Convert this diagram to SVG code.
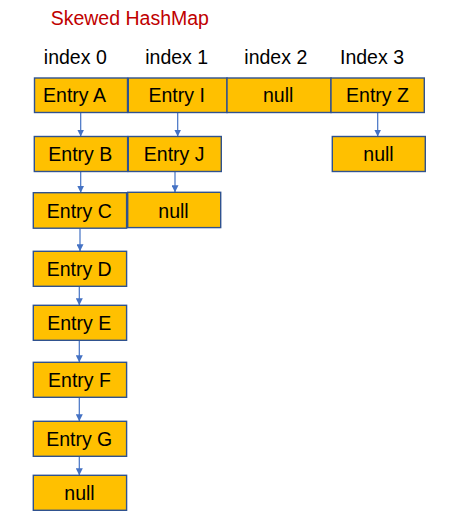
<svg xmlns="http://www.w3.org/2000/svg" width="463" height="521" viewBox="0 0 463 521">
<style>
.box{fill:#FFC000;stroke:#2F528F;stroke-width:1.4}
.t{font-family:"Liberation Sans",Arial,sans-serif;font-size:19.5px;fill:#000;text-anchor:middle}
.title{font-family:"Liberation Sans",Arial,sans-serif;font-size:19.5px;fill:#C00000}
.c{stroke:#4472C4;stroke-width:1.2;fill:none}
</style>
<defs>
<marker id="ah" markerUnits="userSpaceOnUse" markerWidth="8" markerHeight="7" refX="7" refY="3.5" orient="auto">
<path d="M0,0 L7,3.5 L0,7 Z" fill="#4472C4"/>
</marker>
</defs>
<rect width="463" height="521" fill="#fff"/>
<text class="title" x="50.7" y="25">Skewed HashMap</text>
<g id="labels">
<text class="t" x="75.3" y="64">index 0</text>
<text class="t" x="176.7" y="64">index 1</text>
<text class="t" x="275.8" y="64">index 2</text>
<text class="t" x="372" y="64">Index 3</text>
</g>
<g id="connectors">
<line class="c" x1="80.7" y1="112.5" x2="80.7" y2="136.5" marker-end="url(#ah)"/>
<line class="c" x1="177.7" y1="112.5" x2="177.7" y2="136.5" marker-end="url(#ah)"/>
<line class="c" x1="377.7" y1="112.5" x2="377.7" y2="136.5" marker-end="url(#ah)"/>
<line class="c" x1="80.7" y1="171.5" x2="80.7" y2="192.7" marker-end="url(#ah)"/>
<line class="c" x1="175" y1="171.5" x2="175" y2="192.3" marker-end="url(#ah)"/>
<line class="c" x1="80" y1="228.2" x2="80" y2="251.3" marker-end="url(#ah)"/>
<line class="c" x1="79.3" y1="286.3" x2="79.3" y2="305.3" marker-end="url(#ah)"/>
<line class="c" x1="79.3" y1="340.3" x2="79.3" y2="362.3" marker-end="url(#ah)"/>
<line class="c" x1="79.3" y1="397.3" x2="79.3" y2="421.3" marker-end="url(#ah)"/>
<line class="c" x1="79.3" y1="456.3" x2="79.3" y2="475.3" marker-end="url(#ah)"/>
</g>
<g id="entryA"><rect class="box" x="34.5" y="78" width="93" height="34.5"/><text class="t" x="74.5" y="102">Entry A</text></g>
<g id="entryI"><rect class="box" x="128.3" y="78" width="98.7" height="34.5"/><text class="t" x="176.7" y="102">Entry I</text></g>
<g id="null2"><rect class="box" x="227" y="78" width="104" height="34.5"/><text class="t" x="278.2" y="102">null</text></g>
<g id="entryZ"><rect class="box" x="331" y="78" width="93.3" height="34.5"/><text class="t" x="377.5" y="102">Entry Z</text></g>
<g id="entryB"><rect class="box" x="34.3" y="136.5" width="93.3" height="35"/><text class="t" x="80.3" y="161">Entry B</text></g>
<g id="entryJ"><rect class="box" x="128.3" y="136.5" width="93" height="35"/><text class="t" x="174.2" y="161">Entry J</text></g>
<g id="nullZ"><rect class="box" x="332.3" y="136.5" width="93" height="35"/><text class="t" x="378.5" y="161">null</text></g>
<g id="entryC"><rect class="box" x="33.3" y="192.7" width="93.3" height="35.5"/><text class="t" x="79.3" y="217.7">Entry C</text></g>
<g id="nullJ"><rect class="box" x="127.7" y="192.3" width="93" height="35.3"/><text class="t" x="173.5" y="217.5">null</text></g>
<g id="entryD"><rect class="box" x="33.3" y="251.3" width="93.3" height="35"/><text class="t" x="79.2" y="276">Entry D</text></g>
<g id="entryE"><rect class="box" x="33.3" y="305.3" width="93.3" height="35"/><text class="t" x="79.2" y="330">Entry E</text></g>
<g id="entryF"><rect class="box" x="33.3" y="362.3" width="93.3" height="35"/><text class="t" x="79.5" y="387">Entry F</text></g>
<g id="entryG"><rect class="box" x="33.3" y="421.3" width="93.3" height="35"/><text class="t" x="79.2" y="446">Entry G</text></g>
<g id="null0"><rect class="box" x="33.3" y="475.3" width="93.3" height="35"/><text class="t" x="79.5" y="500">null</text></g>
</svg>
